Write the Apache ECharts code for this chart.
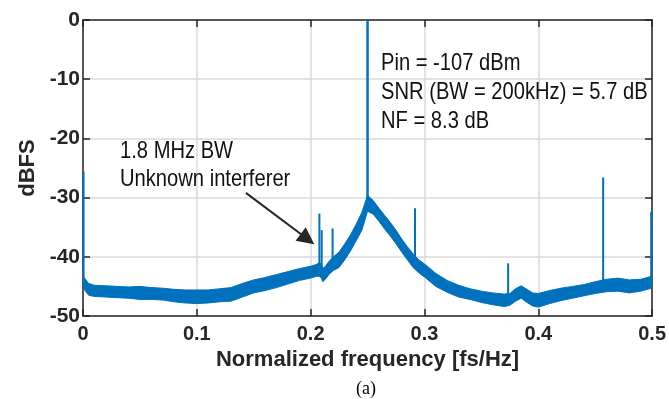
<!DOCTYPE html>
<html>
<head>
<meta charset="utf-8">
<script src="https://cdn.jsdelivr.net/npm/echarts@6/dist/echarts.min.js"></script>
<style>
html,body{margin:0;padding:0;background:#fff;}
#chart{width:669px;height:399px;}
</style>
</head>
<body>
<div id="chart"></div>
<script>
// ---- data ----
const xTicks = [0, 0.1, 0.2, 0.3, 0.4, 0.5];
const yTicks = [-50, -40, -30, -20, -10, 0];

// noise-floor band: frequency, upper and lower envelope (dBFS)
const freq  = [0.001,0.005,0.01,0.02,0.03,0.04,0.05,0.06,0.07,0.08,0.09,0.10,0.11,0.12,0.13,0.14,0.15,0.16,0.17,0.18,0.19,0.20,0.205,0.2075,0.2095,0.2105,0.213,0.216,0.22,0.225,0.23,0.235,0.24,0.245,0.25,0.255,0.26,0.265,0.27,0.275,0.28,0.285,0.29,0.295,0.30,0.31,0.32,0.33,0.34,0.35,0.36,0.37,0.375,0.38,0.385,0.39,0.395,0.40,0.41,0.42,0.43,0.44,0.45,0.46,0.47,0.48,0.49,0.4995];
const upper = [-43.5,-44.5,-44.8,-44.9,-45.0,-45.1,-45.0,-45.2,-45.3,-45.5,-45.6,-45.6,-45.6,-45.4,-45.2,-44.5,-43.9,-43.5,-43.0,-42.5,-42.0,-41.6,-41.3,-41.0,-41.2,-42.0,-41.6,-40.8,-40.0,-39.2,-37.8,-36.3,-34.5,-32.5,-29.6,-30.5,-31.8,-33.0,-34.2,-35.5,-37.0,-38.3,-39.5,-40.5,-41.2,-42.8,-44.0,-44.8,-45.4,-45.8,-46.1,-46.3,-46.2,-45.4,-44.9,-45.5,-46.1,-46.2,-45.7,-45.3,-45.0,-44.7,-44.2,-43.8,-43.6,-43.9,-43.8,-43.3];
const lower = [-45.5,-46.5,-46.7,-46.8,-46.9,-47.0,-47.2,-47.2,-47.3,-47.6,-47.8,-47.9,-47.8,-47.6,-47.5,-46.8,-46.1,-45.7,-45.2,-44.6,-44.0,-43.6,-43.3,-43.3,-43.6,-44.2,-43.8,-43.0,-42.3,-41.8,-40.5,-39.0,-37.3,-35.5,-32.3,-32.8,-34.0,-35.3,-36.5,-37.8,-39.2,-40.5,-41.8,-42.7,-43.4,-45.0,-46.0,-46.8,-47.2,-47.7,-48.1,-48.4,-48.2,-47.5,-47.0,-47.7,-48.3,-48.5,-47.9,-47.4,-47.0,-46.6,-46.2,-45.9,-45.8,-46.1,-45.8,-45.3];

// spurs / tones: frequency, base and top (dBFS)
const spikeFreq = [0.0005, 0.2077, 0.2097, 0.2193, 0.25, 0.2917, 0.3735, 0.457, 0.4992];
const spikeBase = [-44.5, -42.5, -42.5, -41.5, -31.0, -41.0, -47.5, -45.0, -44.5];
const spikeTop  = [-25.6, -32.7, -35.5, -35.2, 0.0, -31.8, -41.1, -26.6, -32.4];

// annotation arrow (data space): tail and tip
const arrowX = [0.1431, 0.1972];
const arrowY = [-29.2, -37.0];

const BLUE = '#0072BD';
const INK = '#262626';
const SANS = "'Liberation Sans', Arial, sans-serif";

const chart = echarts.init(document.getElementById('chart'), null, {renderer: 'canvas'});

const axisCommon = {
  type: 'value',
  axisLine: {show: true, onZero: false, lineStyle: {color: INK, width: 1.5}},
  axisTick: {show: true, inside: true, length: 7, lineStyle: {color: INK, width: 1.5}}
};

function note(text, left, top) {
  return {type: 'text', left: left, top: top, z: 10, scaleX: 0.84,
    style: {text: text, font: "24px " + SANS, fill: '#111'}};
}

const option = {
  animation: false,
  backgroundColor: '#fff',
  grid: {left: 83, right: 13, top: 20, bottom: 83, containLabel: false},
  xAxis: [
    Object.assign({}, axisCommon, {
      min: xTicks[0], max: xTicks[xTicks.length - 1], interval: 0.1, position: 'bottom',
      axisLabel: {fontSize: 20, fontWeight: 'bold', color: INK, fontFamily: SANS, margin: 8,
        formatter: v => (v === 0 ? '0' : (+v.toFixed(1)).toString())},
      splitLine: {show: true, lineStyle: {color: '#dadada', width: 1.5}},
      name: 'Normalized frequency [fs/Hz]', nameLocation: 'middle', nameGap: 25,
      nameTextStyle: {fontSize: 22, fontWeight: 'bold', color: INK, fontFamily: SANS}
    }),
    Object.assign({}, axisCommon, {
      min: xTicks[0], max: xTicks[xTicks.length - 1], interval: 0.1, position: 'top',
      axisLabel: {show: false}, splitLine: {show: false}
    })
  ],
  yAxis: [
    Object.assign({}, axisCommon, {
      min: yTicks[0], max: yTicks[yTicks.length - 1], interval: 10, position: 'left',
      axisLabel: {fontSize: 21, fontWeight: 'bold', color: INK, fontFamily: SANS, margin: 3},
      splitLine: {show: true, lineStyle: {color: '#dadada', width: 1.5}},
      name: 'dBFS', nameLocation: 'middle', nameGap: 42, nameRotate: 90,
      nameTextStyle: {fontSize: 22, fontWeight: 'bold', color: INK, fontFamily: SANS}
    }),
    Object.assign({}, axisCommon, {
      min: yTicks[0], max: yTicks[yTicks.length - 1], interval: 10, position: 'right',
      axisLabel: {show: false}, splitLine: {show: false}
    })
  ],
  series: [
    {
      type: 'custom', name: 'noise floor', coordinateSystem: 'cartesian2d',
      xAxisIndex: 0, yAxisIndex: 0, clip: true, z: 3,
      data: freq.map((f, i) => [f, upper[i], lower[i]]),
      encode: {x: 0, y: [1, 2]},
      renderItem: function (params, api) {
        if (params.dataIndex !== 0) return null;
        const pts = [];
        for (let i = 0; i < freq.length; i++) pts.push(api.coord([freq[i], upper[i]]));
        for (let i = freq.length - 1; i >= 0; i--) pts.push(api.coord([freq[i], lower[i]]));
        return {type: 'polygon', shape: {points: pts},
          style: {fill: BLUE, stroke: BLUE, lineWidth: 1}};
      }
    },
    {
      type: 'custom', name: 'spurs', coordinateSystem: 'cartesian2d',
      xAxisIndex: 0, yAxisIndex: 0, clip: false, z: 4,
      data: spikeFreq.map((f, i) => [f, spikeBase[i], spikeTop[i]]),
      encode: {x: 0, y: [1, 2]},
      renderItem: function (params, api) {
        const p0 = api.coord([api.value(0), api.value(1)]);
        const p1 = api.coord([api.value(0), api.value(2)]);
        return {type: 'line', shape: {x1: p0[0], y1: p0[1], x2: p1[0], y2: p1[1]},
          style: {stroke: BLUE, lineWidth: api.value(2) === 0 ? 2.5 : 2}};
      }
    },
    {
      type: 'lines', coordinateSystem: 'cartesian2d', xAxisIndex: 0, yAxisIndex: 0, z: 5,
      symbol: ['none', 'triangle'], symbolSize: [13, 17],
      lineStyle: {color: INK, width: 2, opacity: 1},
      data: [{coords: [[arrowX[0], arrowY[0]], [arrowX[1], arrowY[1]]]}]
    }
  ],
  graphic: [
    note('Pin = -107 dBm', 381, 51),
    note('SNR (BW = 200kHz) = 5.7 dB', 381, 80),
    note('NF = 8.3 dB', 381, 109),
    note('1.8 MHz BW', 120, 139),
    note('Unknown interferer', 120, 167),
    {type: 'text', left: 356, top: 380, z: 10,
      style: {text: '(a)', font: "18px 'Liberation Serif', 'Times New Roman', serif", fill: '#000'}}
  ]
};
chart.setOption(option);
</script>
</body>
</html>
